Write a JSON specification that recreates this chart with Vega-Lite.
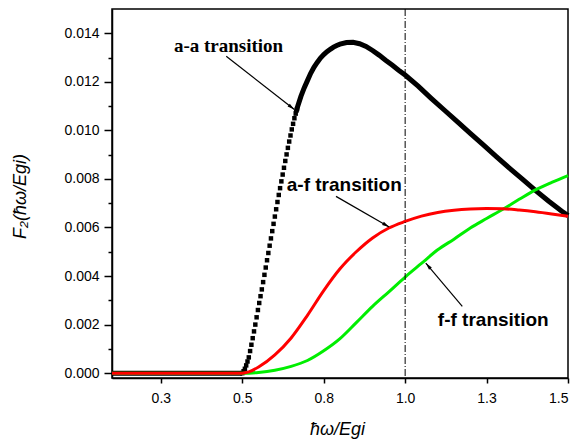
{
  "$schema": "https://vega.github.io/schema/vega-lite/v6.json",
  "width": 456,
  "height": 369,
  "autosize": {"type": "none"},
  "padding": {"left": 112, "top": 9, "right": 8, "bottom": 63},
  "background": "white",
  "config": {
    "view": {"stroke": "black", "strokeWidth": 1.5},
    "axis": {
      "labelFont": "Liberation Sans",
      "labelFontSize": 14,
      "labelColor": "black",
      "titleFont": "Liberation Sans",
      "titleFontSize": 18,
      "titleFontStyle": "italic",
      "titleFontWeight": "normal",
      "titleColor": "black",
      "domainColor": "black",
      "domainWidth": 1.5,
      "tickColor": "black",
      "tickWidth": 1.5,
      "grid": false
    }
  },
  "datasets": {
    "aaLine": [
      {"seg": "low", "x": 0.10, "y": 0}, {"seg": "low", "x": 0.50, "y": 0},
      {"seg": "high", "x": 0.665, "y": 0.01074}, {"seg": "high", "x": 0.67, "y": 0.01098}, {"seg": "high", "x": 0.68, "y": 0.01140},
      {"seg": "high", "x": 0.69, "y": 0.01175}, {"seg": "high", "x": 0.70, "y": 0.01205}, {"seg": "high", "x": 0.71, "y": 0.01235},
      {"seg": "high", "x": 0.72, "y": 0.01260}, {"seg": "high", "x": 0.73, "y": 0.01280}, {"seg": "high", "x": 0.74, "y": 0.01298},
      {"seg": "high", "x": 0.75, "y": 0.01312}, {"seg": "high", "x": 0.76, "y": 0.01324}, {"seg": "high", "x": 0.77, "y": 0.01334},
      {"seg": "high", "x": 0.78, "y": 0.01343}, {"seg": "high", "x": 0.79, "y": 0.01350}, {"seg": "high", "x": 0.80, "y": 0.01355},
      {"seg": "high", "x": 0.82, "y": 0.01362}, {"seg": "high", "x": 0.84, "y": 0.01363}, {"seg": "high", "x": 0.86, "y": 0.01357},
      {"seg": "high", "x": 0.88, "y": 0.01346}, {"seg": "high", "x": 0.90, "y": 0.01329}, {"seg": "high", "x": 0.92, "y": 0.01310},
      {"seg": "high", "x": 0.94, "y": 0.01289}, {"seg": "high", "x": 0.96, "y": 0.01269}, {"seg": "high", "x": 0.98, "y": 0.01248},
      {"seg": "high", "x": 1.00, "y": 0.01228}, {"seg": "high", "x": 1.04, "y": 0.01182}, {"seg": "high", "x": 1.08, "y": 0.01132},
      {"seg": "high", "x": 1.12, "y": 0.01084}, {"seg": "high", "x": 1.16, "y": 0.01036}, {"seg": "high", "x": 1.20, "y": 0.00988},
      {"seg": "high", "x": 1.24, "y": 0.00940}, {"seg": "high", "x": 1.28, "y": 0.00892}, {"seg": "high", "x": 1.32, "y": 0.00845},
      {"seg": "high", "x": 1.36, "y": 0.00799}, {"seg": "high", "x": 1.40, "y": 0.00753}, {"seg": "high", "x": 1.44, "y": 0.00709},
      {"seg": "high", "x": 1.48, "y": 0.00668}, {"seg": "high", "x": 1.50, "y": 0.00649}
    ],
    "aaPts": [
      {"x": 0.500, "y": 0.00000}, {"x": 0.504, "y": 0.00008}, {"x": 0.508, "y": 0.00018}, {"x": 0.512, "y": 0.00032},
      {"x": 0.516, "y": 0.00048}, {"x": 0.520, "y": 0.00065}, {"x": 0.524, "y": 0.00091}, {"x": 0.528, "y": 0.00117},
      {"x": 0.532, "y": 0.00144}, {"x": 0.536, "y": 0.00172}, {"x": 0.540, "y": 0.00200}, {"x": 0.544, "y": 0.00230},
      {"x": 0.548, "y": 0.00260}, {"x": 0.552, "y": 0.00289}, {"x": 0.556, "y": 0.00317}, {"x": 0.560, "y": 0.00345},
      {"x": 0.564, "y": 0.00375}, {"x": 0.568, "y": 0.00405}, {"x": 0.572, "y": 0.00435}, {"x": 0.576, "y": 0.00465},
      {"x": 0.580, "y": 0.00495}, {"x": 0.584, "y": 0.00525}, {"x": 0.588, "y": 0.00555}, {"x": 0.592, "y": 0.00585},
      {"x": 0.596, "y": 0.00615}, {"x": 0.600, "y": 0.00645}, {"x": 0.604, "y": 0.00675}, {"x": 0.608, "y": 0.00705},
      {"x": 0.612, "y": 0.00734}, {"x": 0.616, "y": 0.00762}, {"x": 0.620, "y": 0.00790}, {"x": 0.624, "y": 0.00818},
      {"x": 0.628, "y": 0.00846}, {"x": 0.632, "y": 0.00874}, {"x": 0.636, "y": 0.00901}, {"x": 0.640, "y": 0.00928},
      {"x": 0.644, "y": 0.00954}, {"x": 0.648, "y": 0.00979}, {"x": 0.652, "y": 0.01004}, {"x": 0.656, "y": 0.01027},
      {"x": 0.660, "y": 0.01050}, {"x": 0.664, "y": 0.01069}, {"x": 0.668, "y": 0.01088}
    ],
    "af": [
      {"x": 0.10, "y": 0}, {"x": 0.50, "y": 0}, {"x": 0.52, "y": 0.00005}, {"x": 0.55, "y": 0.00025},
      {"x": 0.60, "y": 0.00075}, {"x": 0.65, "y": 0.00145}, {"x": 0.70, "y": 0.00238}, {"x": 0.75, "y": 0.00340},
      {"x": 0.80, "y": 0.00430}, {"x": 0.85, "y": 0.00500}, {"x": 0.90, "y": 0.00557}, {"x": 0.95, "y": 0.00598},
      {"x": 1.00, "y": 0.00625}, {"x": 1.05, "y": 0.00647}, {"x": 1.10, "y": 0.00662}, {"x": 1.15, "y": 0.00671},
      {"x": 1.20, "y": 0.00676}, {"x": 1.25, "y": 0.00678}, {"x": 1.30, "y": 0.00677}, {"x": 1.35, "y": 0.00672},
      {"x": 1.40, "y": 0.00665}, {"x": 1.45, "y": 0.00656}, {"x": 1.50, "y": 0.00646}
    ],
    "ff": [
      {"x": 0.10, "y": 0}, {"x": 0.50, "y": 0}, {"x": 0.55, "y": 0.00003}, {"x": 0.60, "y": 0.00012},
      {"x": 0.65, "y": 0.00028}, {"x": 0.70, "y": 0.00052}, {"x": 0.75, "y": 0.00092}, {"x": 0.80, "y": 0.00142},
      {"x": 0.85, "y": 0.00208}, {"x": 0.90, "y": 0.00275}, {"x": 0.95, "y": 0.00335}, {"x": 1.00, "y": 0.00396},
      {"x": 1.05, "y": 0.00452}, {"x": 1.10, "y": 0.00508}, {"x": 1.15, "y": 0.00552}, {"x": 1.20, "y": 0.00598},
      {"x": 1.25, "y": 0.00637}, {"x": 1.30, "y": 0.00675}, {"x": 1.35, "y": 0.00716}, {"x": 1.40, "y": 0.00755},
      {"x": 1.45, "y": 0.00786}, {"x": 1.50, "y": 0.00814}
    ],
    "vline": [{"x": 1.0}],
    "arrows": [
      {"x": 0.4507, "y": 0.013056, "x2": 0.6599, "y2": 0.010858, "angle": 128},
      {"x": 0.7877, "y": 0.007282, "x2": 0.9510, "y2": 0.006021, "angle": 120},
      {"x": 1.1755, "y": 0.002746, "x2": 1.0634, "y2": 0.004536, "angle": 320}
    ],
    "serifLabels": [
      {"x": 0.4577, "y": 0.013456, "text": "a-a transition"}
    ],
    "sansLabels": [
      {"x": 0.8131, "y": 0.007765, "text": "a-f transition"},
      {"x": 1.2705, "y": 0.0022, "text": "f-f transition"}
    ]
  },
  "encoding": {
    "x": {
      "field": "x",
      "type": "quantitative",
      "scale": {"domain": [0.1, 1.5], "nice": false, "zero": false},
      "axis": {
        "title": "ħω/Egi",
        "values": [0.25, 0.5, 0.75, 1.0, 1.25, 1.5],
        "format": ".1f",
        "tickSize": 5,
        "labelPadding": 8,
        "titleX": 225,
        "titleY": 56,
        "titleBaseline": "alphabetic",
        "titleAnchor": "middle"
      }
    },
    "y": {
      "field": "y",
      "type": "quantitative",
      "scale": {"domain": [-0.0002, 0.015], "nice": false, "zero": false},
      "axis": {
        "title": "F₂(ħω/Egi)",
        "values": [0, 0.001, 0.002, 0.003, 0.004, 0.005, 0.006, 0.007, 0.008, 0.009, 0.010, 0.011, 0.012, 0.013, 0.014],
        "labelExpr": "round(datum.value*1000) % 2 === 0 ? format(datum.value, '.3f') : ''",
        "tickSize": {"condition": {"test": "round(datum.value*1000) % 2 === 1", "value": 4}, "value": 8},
        "labelPadding": 5,
        "titleX": -92,
        "titleY": 187,
        "titleBaseline": "middle",
        "titleAlign": "center"
      }
    }
  },
  "layer": [
    {
      "data": {"name": "aaLine"},
      "mark": {"type": "line", "color": "black", "strokeWidth": 5, "strokeCap": "butt"},
      "encoding": {"detail": {"field": "seg", "type": "nominal"}}
    },
    {
      "data": {"name": "aaPts"},
      "mark": {"type": "point", "shape": "square", "filled": true, "size": 20, "color": "black", "opacity": 1}
    },
    {
      "data": {"name": "ff"},
      "mark": {"type": "line", "color": "#00ee00", "strokeWidth": 3, "interpolate": "monotone"}
    },
    {
      "data": {"name": "af"},
      "mark": {"type": "line", "color": "#ff0000", "strokeWidth": 3, "interpolate": "monotone"}
    },
    {
      "data": {"name": "vline"},
      "mark": {"type": "rule", "color": "black", "strokeWidth": 1, "strokeDash": [7, 2, 1, 2]},
      "encoding": {"x": {"field": "x", "type": "quantitative"}, "y": null}
    },
    {
      "data": {"name": "arrows"},
      "mark": {"type": "rule", "color": "black", "strokeWidth": 1.2},
      "encoding": {
        "x2": {"field": "x2"},
        "y2": {"field": "y2"}
      }
    },
    {
      "data": {"name": "arrows"},
      "mark": {"type": "point", "shape": "M0,0L-0.45,1.8L0.45,1.8Z", "filled": true, "size": 64, "color": "black", "opacity": 1},
      "encoding": {
        "x": {"field": "x2", "type": "quantitative"},
        "y": {"field": "y2", "type": "quantitative"},
        "angle": {"field": "angle", "type": "quantitative", "scale": null}
      }
    },
    {
      "data": {"name": "serifLabels"},
      "mark": {"type": "text", "font": "Liberation Serif", "fontWeight": "bold", "fontSize": 19, "color": "black", "align": "center", "baseline": "middle"},
      "encoding": {"text": {"field": "text"}}
    },
    {
      "data": {"name": "sansLabels"},
      "mark": {"type": "text", "font": "Liberation Sans", "fontWeight": "bold", "fontSize": 19, "color": "black", "align": "center", "baseline": "middle"},
      "encoding": {"text": {"field": "text"}}
    }
  ]
}
